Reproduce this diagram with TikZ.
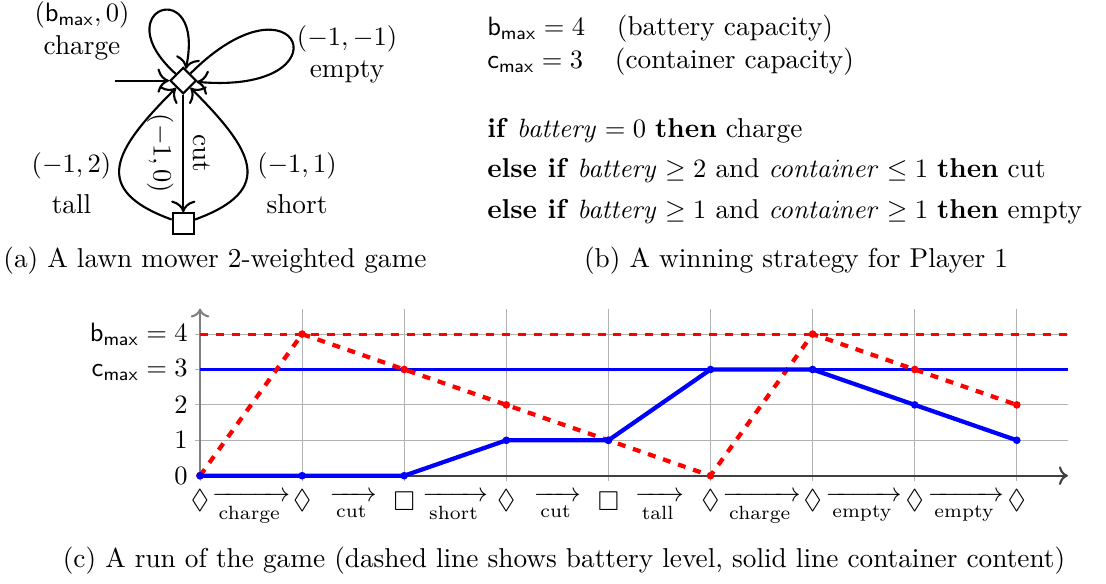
\documentclass[tikz,border=0pt]{standalone}
\usepackage{amsmath,amssymb}
\usetikzlibrary{shapes.geometric,arrows.meta,positioning}
\newcommand{\bmax}{\mathsf{b}_{\mathsf{max}}}
\newcommand{\cmax}{\mathsf{c}_{\mathsf{max}}}

\begin{document}
\begin{tikzpicture}[font=\fontsize{10.3}{12.4}\selectfont,
  pone/.style={draw, thick, diamond, inner sep=0pt, minimum size=0.35cm},
  ptwo/.style={draw, thick, rectangle, inner sep=0pt, minimum size=0.28cm},
  trans/.style={-{To[scale=1.3]}, thick},
  lbl/.style={align=center},
  battery/.style={red, ultra thick, dashed},
  container/.style={blue, ultra thick}]
\useasboundingbox (0,0) rectangle (14.668,7.745);

% (a) the game
\node[pone] (d) at (2.431,6.675) {};
\node[ptwo] (sq) at (2.431,4.777) {};
\coordinate (init) at (1.525,6.675);
\draw[trans] (init) -- (d);
\draw[trans] (d) to[out=138,in=78,min distance=1.3cm] (d);
\draw[trans] (d) to[out=45,in=-5,min distance=2.05cm] (d);
\draw[trans] (d) -- node[sloped,above]{cut} node[sloped,below]{$(-1,0)$} (sq);
\draw[trans] (sq) to[out=160,in=225,looseness=1.7] (d);
\draw[trans] (sq) to[out=20,in=-45,looseness=1.7] (d);
\node[lbl] (lcharge) at (1.088,7.340) {$(\bmax,0)$\\charge};
\node[lbl] (lempty) at (4.602,7.024) {$(-1,-1)$\\empty};
\node[lbl] (ltall) at (0.948,5.313) {$(-1,2)$\\[3pt]tall};
\node[lbl] (lshort) at (3.939,5.313) {$(-1,1)$\\[3pt]short};
\node[anchor=base] (capa) at (2.851,4.191) {(a) A lawn mower 2-weighted game};

% (b) the strategy
\node[anchor=base west] (bcap) at (6.338,7.273) {$\bmax = 4$\quad\,(battery capacity)};
\node[anchor=base west] (ccap) at (6.338,6.830) {$\cmax = 3$\quad\,(container capacity)};
\node[anchor=base west] (rule1) at (6.338,5.915) {\textbf{if} $\mathit{battery} = 0$ \textbf{then} charge};
\node[anchor=base west] (rule2) at (6.338,5.385) {\textbf{else if} $\mathit{battery} \geq 2$ and $\mathit{container} \leq 1$ \textbf{then} cut};
\node[anchor=base west] (rule3) at (6.338,4.850) {\textbf{else if} $\mathit{battery} \geq 1$ and $\mathit{container} \geq 1$ \textbf{then} empty};
\node[anchor=base] (capb) at (10.557,4.196) {(b) A winning strategy for Player 1};

% (c) a run
\begin{scope}[shift={(2.653,1.436)}, x=1.354cm, y=0.4695cm]
  \foreach \i in {0,...,8} \draw[gray!60] (\i,-0.15) -- (\i,4.72);
  \foreach \j in {1,...,4} \draw[gray!60] (-0.05,\j) -- (8.5,\j);
  \draw[->, thick, gray] (0,0) -- (0,4.72);
  \draw[->, thick, black!75] (0,0) -- (8.5,0);
  \draw[red, very thick, dashed] (0,4) -- (8.5,4);
  \draw[blue, very thick] (0,3) -- (8.5,3);
  \node[left] (yb) at (-0.03,4) {$\bmax = 4$};
  \node[left] (yc) at (-0.03,3) {$\cmax = 3$};
  \foreach \j in {0,1,2} \node[left] (y\j) at (-0.03,\j) {$\j$};
  \draw[battery] (0,0) \foreach \i/\b in {1/4,2/3,3/2,4/1,5/0,6/4,7/3,8/2} { -- (\i,\b) };
  \foreach \i/\b in {0/0,1/4,2/3,3/2,4/1,5/0,6/4,7/3,8/2} \fill[red] (\i,\b) circle (1.45pt);
  \draw[container] (0,0) \foreach \i/\c in {1/0,2/0,3/1,4/1,5/3,6/3,7/2,8/1} { -- (\i,\c) };
  \foreach \i/\c in {0/0,1/0,2/0,3/1,4/1,5/3,6/3,7/2,8/1} \fill[blue] (\i,\c) circle (1.45pt);
  \foreach \i/\s in {0/\Diamond,1/\Diamond,2/\Box,3/\Diamond,4/\Box,5/\Diamond,6/\Diamond,7/\Diamond,8/\Diamond}
    \node (s\i) at (\i,-0.715) {$\s$};
  \foreach \i/\a in {0/charge,1/cut,2/short,3/cut,4/tall,5/charge,6/empty,7/empty}
    \node[anchor=base] (t\i) at (\i+0.5,-0.732) {$\xrightarrow[\text{\a}]{}$};
\end{scope}
\node[anchor=base] (capc) at (7.480,0.2175) {(c) A run of the game (dashed line shows battery level, solid line container content)};
\end{tikzpicture}
\end{document}
